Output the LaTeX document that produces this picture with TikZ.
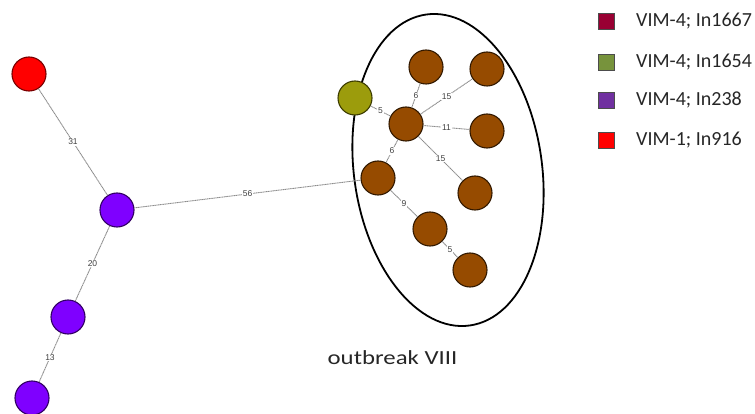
\documentclass[tikz,border=0pt]{standalone}
\usepackage{fontspec}
\setmainfont{Carlito}
\newfontfamily\labfont{Liberation Sans}
\begin{document}
\begin{tikzpicture}[x=1pt,y=-1pt,
  strain/.style={circle,minimum size=34pt,inner sep=0pt,line width=1.1pt},
  redn/.style={strain,fill=red,draw={rgb,255:red,120;green,0;blue,0}},
  purp/.style={strain,fill={rgb,255:red,127;green,0;blue,255},draw={rgb,255:red,50;green,0;blue,100}},
  oliv/.style={strain,fill={rgb,255:red,156;green,156;blue,12},draw={rgb,255:red,60;green,60;blue,0}},
  brwn/.style={strain,fill={rgb,255:red,150;green,75;blue,0},draw={rgb,255:red,50;green,25;blue,0}},
  link/.style={draw=black!45,dash pattern=on 1.2pt off 0.5pt,line width=0.9pt},
  wt/.style={midway,fill=white,inner sep=0.8pt,font=\labfont\fontsize{8.5}{9}\selectfont,text=black!75},
  legbox/.style={draw=black!70,minimum size=16pt,inner sep=0pt,line width=0.6pt},
  legtxt/.style={anchor=west,font=\fontsize{20}{23}\selectfont,text=black!85,inner sep=0pt}]
\useasboundingbox (0,0) rectangle (755,414);
% ellipse
\draw[line width=1.8pt,rotate around={8:(448,170)}] (448,170) ellipse (94 and 157);
% nodes
\node[redn] (r) at (29,74) {};
\node[purp] (p1) at (117,210) {};
\node[purp] (p2) at (68,317) {};
\node[purp] (p3) at (32,398) {};
\node[oliv] (o) at (355,98) {};
\node[brwn] (c) at (406,124) {};
\node[brwn] (t1) at (426,67) {};
\node[brwn] (t2) at (487,69) {};
\node[brwn] (rt) at (487,131) {};
\node[brwn] (l) at (378,178) {};
\node[brwn] (r2) at (475,193) {};
\node[brwn] (lo) at (430,229) {};
\node[brwn] (b) at (470,270) {};
% links
\path[link] (r) -- node[wt]{31} (p1);
\path[link] (p1) -- node[wt]{20} (p2);
\path[link] (p2) -- node[wt]{13} (p3);
\path[link] (p1) -- node[wt]{56} (l);
\path[link] (o) -- node[wt]{5} (c);
\path[link] (c) -- node[wt]{6} (t1);
\path[link] (c) -- node[wt]{15} (t2);
\path[link] (c) -- node[wt]{11} (rt);
\path[link] (c) -- node[wt]{15} (r2);
\path[link] (c) -- node[wt]{6} (l);
\path[link] (l) -- node[wt]{9} (lo);
\path[link] (lo) -- node[wt]{5} (b);
% label
\node[font=\fontsize{20}{23}\selectfont,text=black!85,anchor=base] (ob) at (392.5,364) {\scalebox{1.24}[1]{outbreak VIII}};
% legend
\node[legbox,fill={rgb,255:red,153;green,0;blue,51}] (k1) at (606,21) {};
\node[legbox,fill={rgb,255:red,119;green,147;blue,60}] (k2) at (606,62) {};
\node[legbox,fill={rgb,255:red,112;green,48;blue,160}] (k3) at (606,100) {};
\node[legbox,fill=red] (k4) at (606,140) {};
\node[legtxt] (t1l) at (636,21) {VIM-4; In1667};
\node[legtxt] (t2l) at (636,62) {VIM-4; In1654};
\node[legtxt] (t3l) at (636,100) {VIM-4; In238};
\node[legtxt] (t4l) at (636,140) {VIM-1; In916};
\end{tikzpicture}
\end{document}
